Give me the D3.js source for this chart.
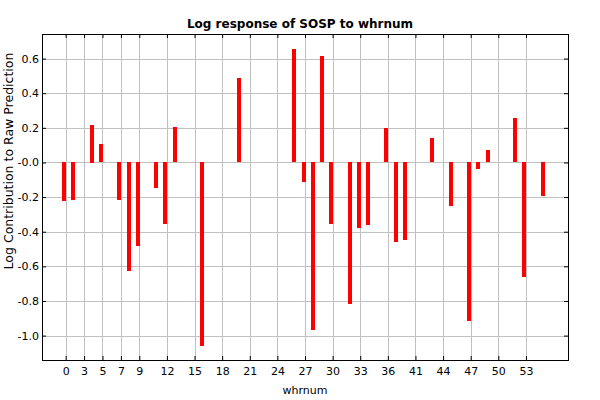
<!DOCTYPE html>
<html>
<head>
<meta charset="utf-8">
<script src="https://cdn.jsdelivr.net/npm/d3@7/dist/d3.min.js"></script>
<style>
  html, body { margin: 0; padding: 0; background: #fff; }
  svg { display: block; }
  text { font-family: "DejaVu Sans", sans-serif; }
</style>
</head>
<body>
<svg id="chart" width="600" height="400"></svg>
<script>
// whrnum category values (categorical axis)
const categories = [0, 1, 3, 4, 5, 6, 7, 8, 9, 10, 11, 12, 13, 14, 15, 16, 17, 18, 19, 20,
  21, 22, 23, 24, 25, 26, 27, 28, 29, 30, 31, 32, 33, 34, 35, 36, 38, 40, 41, 42,
  43, 44, 45, 46, 47, 48, 49, 50, 51, 52, 53, 54, 55];
// log contribution per category
const values = [-0.225, -0.219, 0, 0.219, 0.105, 0, -0.219, -0.630, -0.485, 0,
  -0.149, -0.358, 0.204, 0, 0, -1.064, 0, 0, 0, 0.487,
  0, 0, 0, 0, 0, 0.655, -0.115, -0.971, 0.615, -0.358,
  0, -0.821, -0.381, -0.363, 0, 0.198, -0.462, -0.450, 0, 0,
  0.140, 0, -0.253, 0, -0.919, -0.040, 0.071, 0, 0, 0.256,
  -0.664, 0, -0.196];
// tick labels
const xTickLabels = ["0", "3", "5", "7", "9", "12", "15", "18", "21", "24", "27", "30",
  "33", "36", "41", "44", "47", "50", "53"];
const yTicks = [-1.0, -0.8, -0.6, -0.4, -0.2, 0.0, 0.2, 0.4, 0.6];
const yTickLabels = ["-1.0", "-0.8", "-0.6", "-0.4", "-0.2", "-0.0", "0.2", "0.4", "0.6"];
const title = "Log response of SOSP to whrnum";
const xTitle = "whrnum";
const yTitle = "Log Contribution to Raw Prediction";

const svg = d3.select("#chart");
const L = 42, R = 568, T = 34, B = 360;

const x = d3.scalePoint().domain(categories.map(String)).range([L, R]).padding(2.57);
const y = d3.scaleLinear().domain([-1.141, 0.742]).range([B, T]);

// gridlines
const g = svg.append("g");
g.selectAll("line.hg").data(yTicks).join("line")
  .attr("x1", L).attr("x2", R)
  .attr("y1", d => Math.round(y(d)) + 0.5).attr("y2", d => Math.round(y(d)) + 0.5)
  .attr("stroke", "#c0c0c0").attr("stroke-width", 1);
g.selectAll("line.vg").data(xTickLabels).join("line")
  .attr("x1", d => Math.round(x(d)) + 0.5).attr("x2", d => Math.round(x(d)) + 0.5)
  .attr("y1", T).attr("y2", B)
  .attr("stroke", "#c0c0c0").attr("stroke-width", 1);

// bars
const barW = 4;
svg.append("g").selectAll("rect").data(categories.map((c, i) => ({c: String(c), v: values[i]})).filter(d => d.v !== 0))
  .join("rect")
  .attr("x", d => Math.round(x(d.c) - barW + 0.5) )
  .attr("width", barW)
  .attr("y", d => Math.round(y(Math.max(0, d.v))))
  .attr("height", d => Math.round(Math.abs(y(d.v) - y(0))))
  .attr("fill", "#ff0000")
  .attr("shape-rendering", "crispEdges");

// axes
const fmtY = d => yTickLabels[yTicks.indexOf(d)];
const axB = svg.append("g").attr("transform", `translate(0,${B})`)
  .call(d3.axisBottom(x).tickValues(xTickLabels).tickSize(-4).tickSizeOuter(0).tickPadding(7));
const axT = svg.append("g").attr("transform", `translate(0,${T})`)
  .call(d3.axisTop(x).tickValues(xTickLabels).tickSize(-4).tickSizeOuter(0).tickFormat(""));
const axL = svg.append("g").attr("transform", `translate(${L},0)`)
  .call(d3.axisLeft(y).tickValues(yTicks).tickFormat(fmtY).tickSize(-4).tickSizeOuter(0).tickPadding(3));
const axR = svg.append("g").attr("transform", `translate(${R},0)`)
  .call(d3.axisRight(y).tickValues(yTicks).tickFormat("").tickSize(-4).tickSizeOuter(0));
[axB, axT, axL, axR].forEach(a => {
  a.selectAll("path.domain").remove();
  a.selectAll("line").attr("stroke", "#000");
  a.selectAll("text").attr("font-size", "11px").attr("fill", "#000")
    .style("font-family", "'DejaVu Sans', sans-serif");
});

// frame
svg.append("rect").attr("x", L + 0.5).attr("y", T + 0.5)
  .attr("width", R - L).attr("height", B - T)
  .attr("fill", "none").attr("stroke", "#000").attr("stroke-width", 1);

// titles
svg.append("text").attr("x", 300).attr("y", 28).attr("text-anchor", "middle")
  .attr("font-size", "12px").attr("font-weight", "bold").text(title);
svg.append("text").attr("x", (L + R) / 2).attr("y", 394).attr("text-anchor", "middle")
  .attr("font-size", "11px").text(xTitle);
svg.append("text").attr("transform", "translate(13,161) rotate(-90)")
  .attr("text-anchor", "middle").attr("font-size", "12.5px").text(yTitle);
</script>
</body>
</html>
